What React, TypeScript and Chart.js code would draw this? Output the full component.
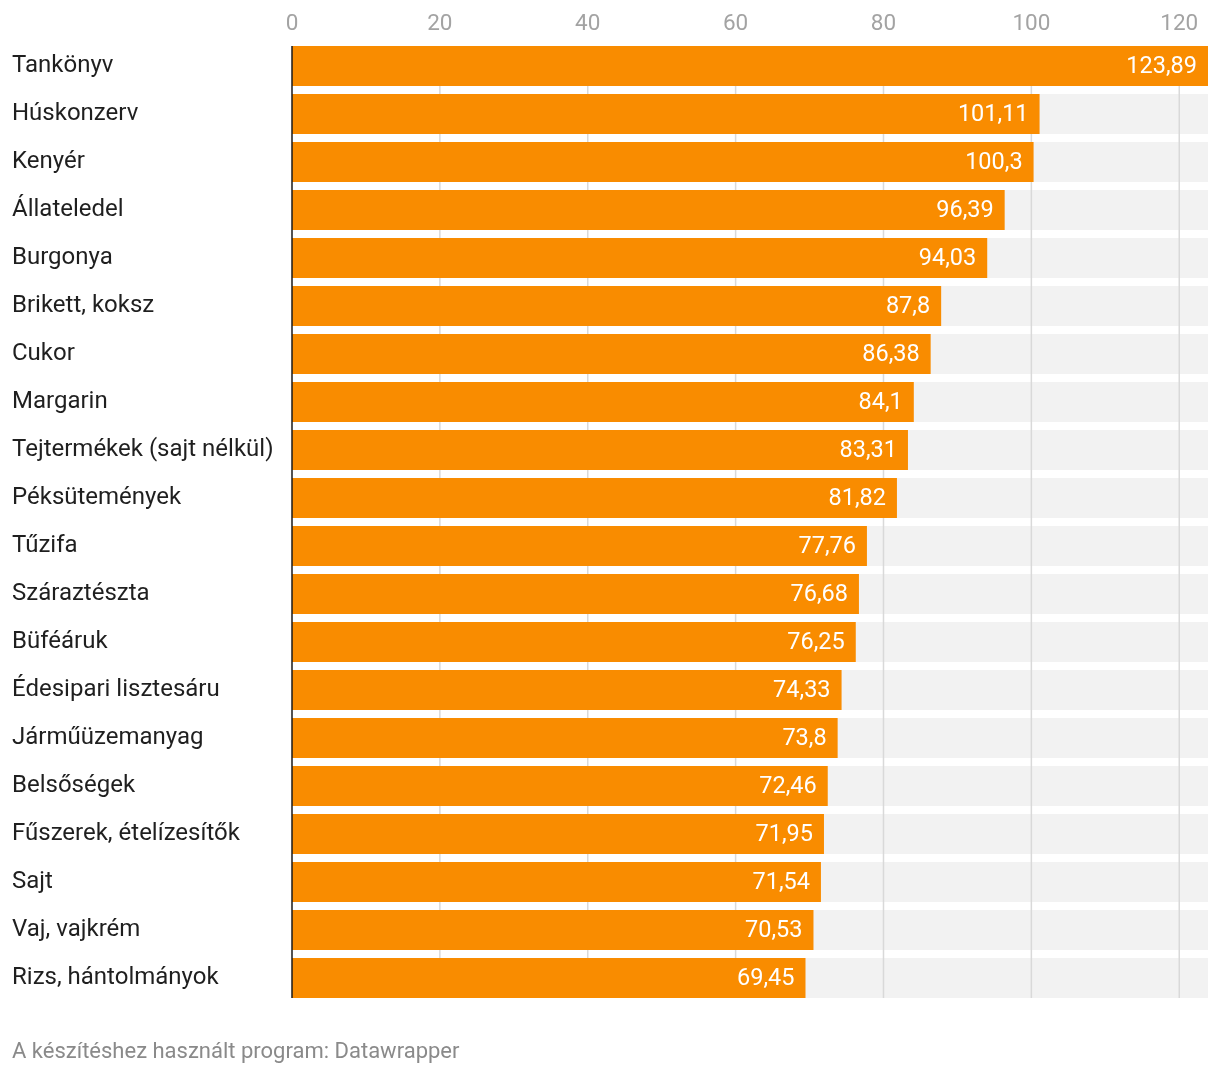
import React, { useEffect, useRef } from "react";
import { Chart, registerables } from "chart.js";

Chart.register(...registerables);

const categories = [
  "Tankönyv",
  "Húskonzerv",
  "Kenyér",
  "Állateledel",
  "Burgonya",
  "Brikett, koksz",
  "Cukor",
  "Margarin",
  "Tejtermékek (sajt nélkül)",
  "Péksütemények",
  "Tűzifa",
  "Száraztészta",
  "Büféáruk",
  "Édesipari lisztesáru",
  "Járműüzemanyag",
  "Belsőségek",
  "Fűszerek, ételízesítők",
  "Sajt",
  "Vaj, vajkrém",
  "Rizs, hántolmányok",
];

const values = [
  123.89, 101.11, 100.3, 96.39, 94.03, 87.8, 86.38, 84.1, 83.31, 81.82, 77.76,
  76.68, 76.25, 74.33, 73.8, 72.46, 71.95, 71.54, 70.53, 69.45,
];

const tickValues = [0, 20, 40, 60, 80, 100, 120];

const footerText = "A készítéshez használt program: Datawrapper";

const FONT = "Roboto, 'Noto Sans', sans-serif";
const ORANGE = "#f98c00";

export default function App() {
  const ref = useRef<HTMLCanvasElement>(null);

  useEffect(() => {
    if (!ref.current) return;

    const decor = {
      id: "decor",
      beforeDatasetsDraw(chart: any) {
        const { ctx, scales } = chart;
        const x = scales.x;
        const meta = chart.getDatasetMeta(0);
        const left = x.getPixelForValue(x.min);
        const right = x.getPixelForValue(x.max);
        ctx.save();
        ctx.fillStyle = "#f2f2f2";
        meta.data.forEach((bar: any) => {
          ctx.fillRect(left, bar.y - bar.height / 2, right - left, bar.height);
        });
        const first = meta.data[0];
        const last = meta.data[meta.data.length - 1];
        const top = first.y - first.height / 2;
        const bottom = last.y + last.height / 2;
        ctx.strokeStyle = "#d9d9d9";
        ctx.lineWidth = 1.5;
        x.ticks.forEach((t: any) => {
          if (t.value === 0) return;
          const px = x.getPixelForValue(t.value);
          ctx.beginPath();
          ctx.moveTo(px, top);
          ctx.lineTo(px, bottom);
          ctx.stroke();
        });
        ctx.restore();
      },
      afterDatasetsDraw(chart: any) {
        const { ctx, scales } = chart;
        const x = scales.x;
        const meta = chart.getDatasetMeta(0);
        ctx.save();
        ctx.fillStyle = "#ffffff";
        ctx.font = `23.5px ${FONT}`;
        ctx.textAlign = "right";
        ctx.textBaseline = "middle";
        meta.data.forEach((bar: any, i: number) => {
          const label = String(values[i]).replace(".", ",");
          ctx.fillText(label, bar.x - 11, bar.y + 1);
        });
        const first = meta.data[0];
        const last = meta.data[meta.data.length - 1];
        const top = first.y - first.height / 2;
        const bottom = last.y + last.height / 2;
        const px = x.getPixelForValue(0);
        ctx.strokeStyle = "#1a1a1a";
        ctx.lineWidth = 1.5;
        ctx.beginPath();
        ctx.moveTo(px, top);
        ctx.lineTo(px, bottom);
        ctx.stroke();
        ctx.restore();
      },
    };

    const chart = new Chart(ref.current, {
      type: "bar",
      data: {
        labels: categories,
        datasets: [
          {
            data: values,
            backgroundColor: ORANGE,
            borderWidth: 0,
            barPercentage: 1,
            categoryPercentage: 40 / 48,
          },
        ],
      },
      options: {
        indexAxis: "y",
        animation: false,
        responsive: true,
        maintainAspectRatio: false,
        layout: { padding: { left: 12, right: 12, top: 0, bottom: 72 } },
        plugins: {
          legend: { display: false },
          tooltip: { enabled: false },
        },
        scales: {
          x: {
            position: "top",
            min: 0,
            max: Math.max(...values),
            grid: { display: false, drawTicks: false },
            border: { display: false },
            ticks: {
              autoSkip: false,
              maxRotation: 0,
              color: "#a3a3a3",
              font: { family: FONT, size: 22.5 },
              padding: 4,
            },
            afterBuildTicks: (s: any) => {
              s.ticks = tickValues.map((v) => ({ value: v }));
            },
            afterFit: (s: any) => {
              s.height = 42;
            },
          },
          y: {
            grid: { display: false },
            border: { display: false },
            ticks: {
              autoSkip: false,
              crossAlign: "far",
              color: "#1f1f1f",
              font: { family: FONT, size: 24 },
              padding: 0,
            },
            afterFit: (s: any) => {
              s.width = 280;
            },
          },
        },
      },
      plugins: [decor],
    } as any);

    return () => chart.destroy();
  }, []);

  return (
    <div
      style={{
        position: "absolute",
        left: 0,
        top: 0,
        width: 1220,
        height: 1074,
        background: "#ffffff",
      }}
    >
      <canvas ref={ref} />
      <div
        style={{
          position: "absolute",
          left: 12,
          top: 1038,
          fontFamily: FONT,
          fontSize: 22,
          lineHeight: "26px",
          color: "#8a8a8a",
          whiteSpace: "nowrap",
        }}
      >
        {footerText}
      </div>
    </div>
  );
}
